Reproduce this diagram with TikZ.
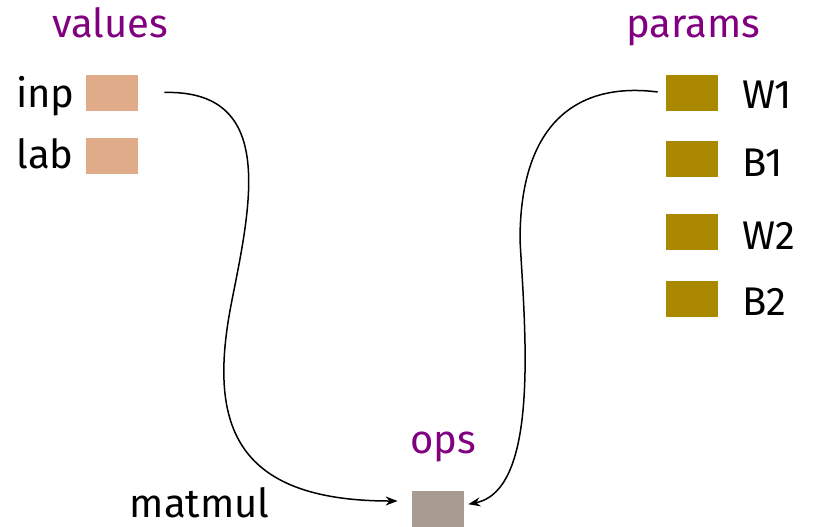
\documentclass[tikz,border=0pt]{standalone}
\usepackage{fontspec}
\setmainfont{Fira Sans}
\usetikzlibrary{arrows.meta}
\definecolor{grp}{HTML}{800080}
\definecolor{valc}{HTML}{E0AB88}
\definecolor{parc}{HTML}{AA8800}
\definecolor{opc}{HTML}{A89B92}
\tikzset{
  lbl/.style={font=\fontsize{20pt}{24pt}\selectfont, inner sep=0pt, anchor=base},
  grplbl/.style={lbl, text=grp},
  cell/.style={minimum width=26pt, minimum height=18pt, inner sep=0pt, draw=none},
  valcell/.style={cell, fill=valc},
  parcell/.style={cell, fill=parc},
  opcell/.style={cell, fill=opc},
  conn/.style={line width=0.75pt, -{Stealth[length=6pt,width=4.5pt,inset=2pt]}}
}
\begin{document}
\begin{tikzpicture}[x=0.5pt,y=-0.5pt]
\useasboundingbox (0,0) rectangle (814,526);
% group labels
\node[grplbl] (values) at (110.5,37) {values};
\node[grplbl] (params) at (693,37) {params};
\node[grplbl] (ops) at (443,453) {ops};
% value cells
\node[valcell] (inpbox) at (112,93) {};
\node[valcell] (labbox) at (112,156) {};
\node[lbl, anchor=base east] (inp) at (75,107) {inp};
\node[lbl, anchor=base east] (lab) at (74,168) {lab};
% param cells
\node[parcell] (w1box) at (692,93) {};
\node[parcell] (b1box) at (692,159) {};
\node[parcell] (w2box) at (692,232) {};
\node[parcell] (b2box) at (692,299) {};
\node[lbl, anchor=base west] (w1) at (742,108) {W1};
\node[lbl, anchor=base west] (b1) at (742,176) {B1};
\node[lbl, anchor=base west] (w2) at (742,249) {W2};
\node[lbl, anchor=base west] (b2) at (742,315) {B2};
% op cell
\node[opcell] (opbox) at (438,509) {};
\node[lbl, anchor=base east] (matmul) at (270,517) {matmul};
% connectors
\draw[conn, shorten <=13pt, shorten >=7pt] (inpbox.east) .. controls (275,90) and (252,200) .. (232,300)
  .. controls (208,420) and (230,501) .. ([yshift=4pt]opbox.west);
\draw[conn, shorten <=4pt, shorten >=2pt] (w1box.west) .. controls (580,82) and (520,120) .. (520,240)
  .. controls (525,330) and (540,490) .. ([yshift=2pt]opbox.east);
\end{tikzpicture}
\end{document}
